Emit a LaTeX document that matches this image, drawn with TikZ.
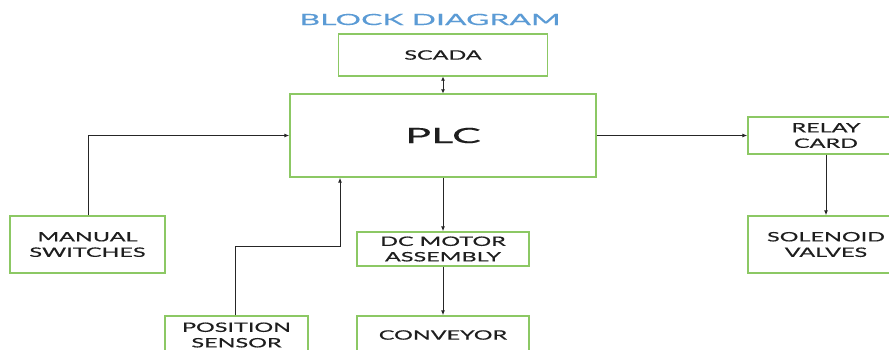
\documentclass[tikz,border=0pt]{standalone}
\usepackage{fontspec}
\setmainfont{Lato}
\newfontfamily\widefont[FakeStretch=1.8,FakeBold=0.4]{Lato}
\newfontfamily\widerfont[FakeStretch=2.06,FakeBold=0.3]{Lato}
\usetikzlibrary{arrows.meta}
\definecolor{boxgreen}{RGB}{140,200,100}
\definecolor{titleblue}{RGB}{91,155,213}
\definecolor{txtgrey}{RGB}{30,30,30}
\tikzset{
  blk/.style={draw=boxgreen, line width=1.3pt, fill=white, rectangle, inner sep=0pt,
    align=center, text=txtgrey, font=\widefont\fontsize{13}{15.5}\selectfont},
  conn/.style={draw=black!85, line width=1pt},
  arr/.style={conn, -{Latex[length=5pt,width=4pt]}},
  darr/.style={conn, {Latex[length=4pt,width=4pt]}-{Latex[length=4pt,width=4pt]}}
}
\begin{document}
\begin{tikzpicture}[x=1pt,y=-1pt]
\useasboundingbox (0,0) rectangle (889,349);
\clip (0,0) rectangle (889,349);
\fill[white] (0,0) rectangle (889,349);
\node[text=titleblue, font=\widerfont\fontsize{15.5}{18}\selectfont] (title) at (430,19.5) {BLOCK DIAGRAM};
\node[blk, minimum width=209pt, minimum height=42pt] (scada) at (443,55) {SCADA};
\node[blk, minimum width=306pt, minimum height=83pt, font=\widerfont\fontsize{21}{24}\selectfont] (plc) at (443,135.5) {PLC};
\node[blk, minimum width=155pt, minimum height=57pt] (manual) at (87.5,244.5) {MANUAL\\SWITCHES};
\node[blk, minimum width=143pt, minimum height=38pt] (pos) at (236.5,335) {POSITION\\SENSOR};
\node[blk, minimum width=172pt, minimum height=34pt] (dc) at (443,249) {DC MOTOR\\ASSEMBLY};
\node[blk, minimum width=172pt, minimum height=38pt] (conv) at (443,335) {CONVEYOR};
\node[blk, minimum width=156pt, minimum height=37pt] (relay) at (826,135.5) {RELAY\\CARD};
\node[blk, minimum width=156pt, minimum height=57pt] (sol) at (826,244.5) {SOLENOID\\VALVES};
\coordinate (m1) at (88,135.5);
\coordinate (p1) at (235,246);
\coordinate (p2) at (340,246);
\draw[darr] (scada.south) -- (plc.north);
\draw[arr] (manual.north -| m1) -- (m1) -- (plc.west);
\draw[arr] (pos.north -| p1) -- (p1) -- (p2) -- (plc.south -| p2);
\draw[arr] (plc.south) -- (dc.north);
\draw[arr] (dc.south) -- (conv.north);
\draw[arr] (plc.east) -- (relay.west);
\draw[arr] (relay.south) -- (sol.north);
\end{tikzpicture}
\end{document}
